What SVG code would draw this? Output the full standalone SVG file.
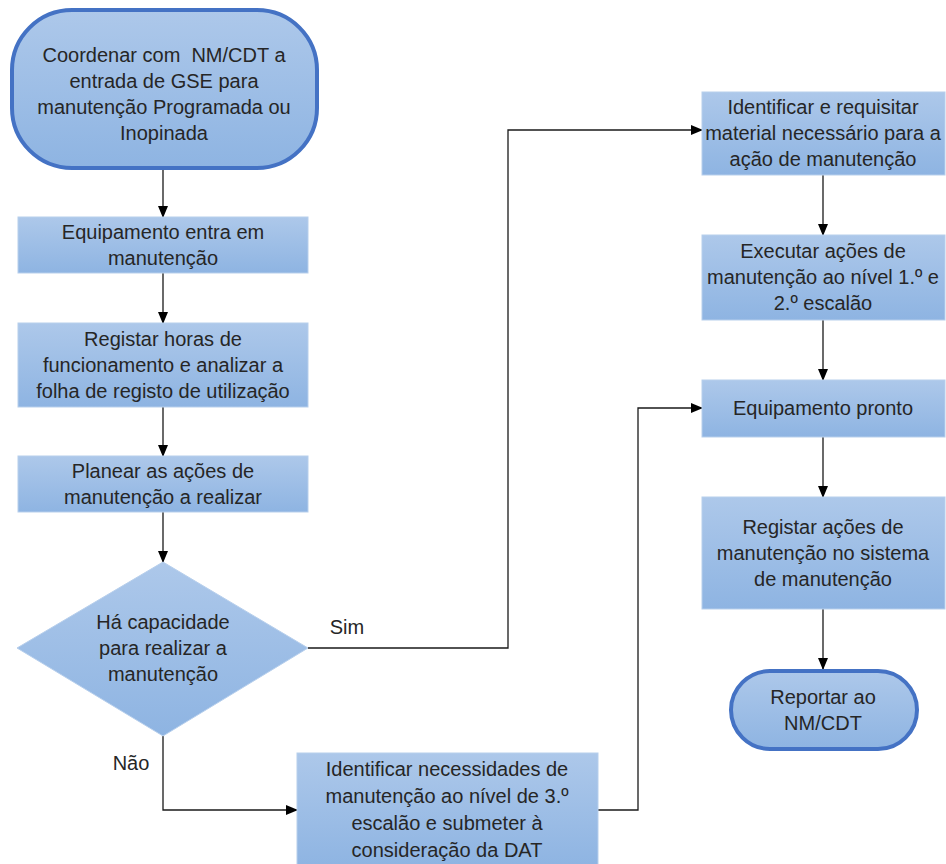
<svg xmlns="http://www.w3.org/2000/svg" width="946" height="864" viewBox="0 0 946 864">
<defs>
<linearGradient id="g" x1="0" y1="0" x2="0" y2="1">
<stop offset="0" stop-color="#adc8ea"/>
<stop offset="1" stop-color="#8eb4e2"/>
</linearGradient>
<marker id="ah" markerWidth="12" markerHeight="10" refX="11" refY="5" orient="auto" markerUnits="userSpaceOnUse">
<path d="M0,0 L12,5 L0,10 Z" fill="#000"/>
</marker>
<style>
.box{fill:url(#g);stroke:#b7cfec;stroke-width:1}
.term{fill:url(#g);stroke:#4472c4;stroke-width:4}
.t{font-family:"Liberation Sans",Arial,sans-serif;font-size:20px;fill:#262626;text-anchor:middle}
.c{fill:none;stroke:#1a1a1a;stroke-width:1.3;marker-end:url(#ah)}
</style>
</defs>
<rect width="946" height="864" fill="#fff"/>
<g id="connectors">
<path class="c" d="M163,170 V217"/>
<path class="c" d="M163,273 V323"/>
<path class="c" d="M163,407 V456"/>
<path class="c" d="M163,512 V562"/>
<path class="c" d="M308,648 H508 V130 H702"/>
<path class="c" d="M163,736 V810 H297"/>
<path class="c" d="M598,810 H638 V408 H702"/>
<path class="c" d="M823,175 V235"/>
<path class="c" d="M823,320 V380"/>
<path class="c" d="M823,437 V497"/>
<path class="c" d="M823,609 V669"/>
<text class="t" x="347" y="634">Sim</text>
<text class="t" x="131" y="770">Não</text>
</g>
<g id="start">
<rect class="term" x="12" y="10" width="305" height="158" rx="60" ry="60"/>
<text class="t" x="164" y="62" xml:space="preserve">Coordenar com  NM/CDT a</text>
<text class="t" x="164" y="88">entrada de GSE para</text>
<text class="t" x="164" y="114">manutenção Programada ou</text>
<text class="t" x="164" y="140">Inopinada</text>
</g>
<g id="n2">
<rect class="box" x="18" y="217" width="290" height="56"/>
<text class="t" x="163" y="239">Equipamento entra em</text>
<text class="t" x="163" y="265">manutenção</text>
</g>
<g id="n3">
<rect class="box" x="18" y="323" width="290" height="84"/>
<text class="t" x="163" y="346">Registar horas de</text>
<text class="t" x="163" y="372">funcionamento e analizar a</text>
<text class="t" x="163" y="398">folha de registo de utilização</text>
</g>
<g id="n4">
<rect class="box" x="18" y="456" width="290" height="56"/>
<text class="t" x="163" y="478">Planear as ações de</text>
<text class="t" x="163" y="504">manutenção a realizar</text>
</g>
<g id="decision">
<path class="box" d="M163,562 L308,648 L163,736 L17,648 Z"/>
<text class="t" x="163" y="629">Há capacidade</text>
<text class="t" x="163" y="655">para realizar a</text>
<text class="t" x="163" y="681">manutenção</text>
</g>
<g id="n6">
<rect class="box" x="297" y="753" width="301" height="114"/>
<text class="t" x="447" y="776">Identificar necessidades de</text>
<text class="t" x="447" y="803">manutenção ao nível de 3.º</text>
<text class="t" x="447" y="830">escalão e submeter à</text>
<text class="t" x="447" y="857">consideração da DAT</text>
</g>
<g id="r1">
<rect class="box" x="702" y="92" width="243" height="83"/>
<text class="t" x="823" y="114">Identificar e requisitar</text>
<text class="t" x="823" y="140">material necessário para a</text>
<text class="t" x="823" y="166">ação de manutenção</text>
</g>
<g id="r2">
<rect class="box" x="702" y="235" width="243" height="85"/>
<text class="t" x="823" y="258">Executar ações de</text>
<text class="t" x="823" y="284">manutenção ao nível 1.º e</text>
<text class="t" x="823" y="310">2.º escalão</text>
</g>
<g id="r3">
<rect class="box" x="702" y="380" width="243" height="57"/>
<text class="t" x="823" y="415">Equipamento pronto</text>
</g>
<g id="r4">
<rect class="box" x="702" y="497" width="243" height="112"/>
<text class="t" x="823" y="534">Registar ações de</text>
<text class="t" x="823" y="560">manutenção no sistema</text>
<text class="t" x="823" y="586">de manutenção</text>
</g>
<g id="end">
<rect class="term" x="731" y="671" width="186" height="78" rx="39" ry="39"/>
<text class="t" x="823" y="704">Reportar ao</text>
<text class="t" x="823" y="730">NM/CDT</text>
</g>
</svg>
